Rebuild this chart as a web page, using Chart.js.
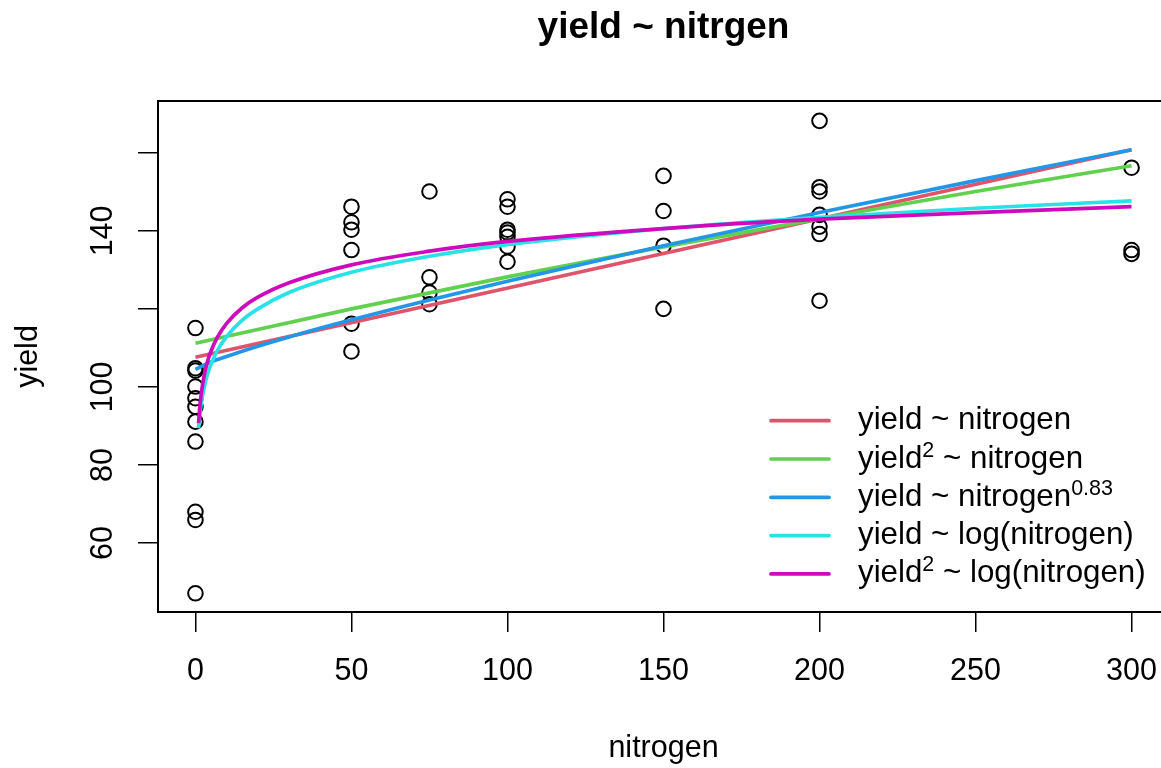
<!DOCTYPE html>
<html><head><meta charset="utf-8">
<script src="https://cdn.jsdelivr.net/npm/chart.js@4/dist/chart.umd.min.js"></script>
<style>html,body{margin:0;padding:0;overflow:hidden;background:#fff;width:1161px;height:768px}canvas{display:block}</style>
</head><body>
<canvas id="c" width="1180" height="768" style="width:1180px;height:768px"></canvas>
<script>
// ---- data ----
const nitrogen = [0,0,0,0,0,0,0,0,0,0,0, 50,50,50,50,50,50, 75,75,75,75, 100,100,100,100,100,100,100, 150,150,150,150, 200,200,200,200,200,200,200, 300,300,300];
const yieldObs = [115.1,104.8,104.2,100.1,97.1,94.9,91.1,86.0,68.0,65.9,47.1,
  146.2,142.2,140.3,135.1,116.2,109.1,
  150.1,128.1,124.2,121.2,
  148.1,146.2,140.3,139.6,138.5,136.0,132.1,
  154.1,145.1,136.2,120.0,
  168.2,151.2,150.1,144.1,141.1,139.2,122.1,
  156.2,135.1,134.1];

const redX = [0, 300];
const redY = [107.6, 160.8];
const greenX = [0, 50, 100, 150, 200, 250, 300];
const greenY = [111.2, 120.0, 128.2, 135.9, 143.1, 150.1, 156.7];
const blueX = [0, 5, 10, 20, 30, 50, 75, 100, 150, 200, 250, 300];
const blueY = [104.5, 106.4, 107.8, 110.4, 112.8, 117.2, 122.3, 127.1, 136.2, 144.7, 152.9, 160.8];
const logX = [1, 1.5, 2, 3, 4, 5, 7, 10, 15, 20, 30, 50, 75, 100, 150, 200, 250, 300];
const cyanY = [89.4, 93.5, 96.5, 100.6, 103.6, 105.8, 109.3, 112.9, 117.1, 120.0, 124.2, 129.4, 133.5, 136.5, 140.6, 143.5, 145.8, 147.7];
const magentaY = [90.7, 95.7, 99.1, 103.7, 106.9, 109.2, 112.7, 116.3, 120.3, 123.0, 126.7, 131.3, 134.8, 137.3, 140.6, 143.0, 144.7, 146.2];

const xTicks = [0, 50, 100, 150, 200, 250, 300];
const yTicks = [60, 80, 100, 120, 140, 160];
const yTickLabels = [60, 80, 100, 140];

const titleText = 'yield ~ nitrgen';
const xTitle = 'nitrogen';
const yTitle = 'yield';
const legendParts = [
  [['yield ~ nitrogen', 0]],
  [['yield', 0], ['2', 1], [' ~ nitrogen', 0]],
  [['yield ~ nitrogen', 0], ['0.83', 1]],
  [['yield ~ log(nitrogen)', 0]],
  [['yield', 0], ['2', 1], [' ~ log(nitrogen)', 0]]
];
const colors = ['#DF536B', '#61D04F', '#2297E6', '#28E2E5', '#CD0BBC'];

// ---- chart ----
const FONT = '"Liberation Sans", Arial, Helvetica, sans-serif';
const pts = (xs, ys) => xs.map((x, i) => ({x: x, y: ys[i]}));
const lineDs = (xs, ys, c, ord) => ({type: 'line', data: pts(xs, ys), borderColor: c, backgroundColor: c,
  borderWidth: 3.7, pointRadius: 0, fill: false, cubicInterpolationMode: 'monotone', order: ord});

const decor = {
  id: 'decor',
  afterDraw(chart) {
    const {ctx, chartArea: a, scales} = chart;
    ctx.save();
    ctx.strokeStyle = '#000'; ctx.lineWidth = 2;
    ctx.strokeRect(a.left, a.top, a.right - a.left, a.bottom - a.top);
    ctx.fillStyle = '#000';
    ctx.textAlign = 'center'; ctx.textBaseline = 'alphabetic';
    ctx.font = 'bold 37px ' + FONT;
    ctx.fillText(titleText, (a.left + a.right) / 2, 38);
    ctx.font = '30.5px ' + FONT;
    ctx.fillText(xTitle, (a.left + a.right) / 2, 757);
    ctx.save(); ctx.translate(37, (a.top + a.bottom) / 2); ctx.rotate(-Math.PI / 2);
    ctx.fillText(yTitle, 0, 0); ctx.restore();
    yTickLabels.forEach(v => {
      const py = scales.y.getPixelForValue(v);
      ctx.save(); ctx.translate(112, py); ctx.rotate(-Math.PI / 2);
      ctx.fillText(String(v), 0, 0); ctx.restore();
    });
    // legend
    const ly0 = 420.7, dy = 38.3;
    legendParts.forEach((parts, i) => {
      const y = ly0 + i * dy;
      ctx.strokeStyle = chart.data.datasets[i + 1].borderColor;
      ctx.lineWidth = 3.7; ctx.lineCap = 'round';
      ctx.beginPath(); ctx.moveTo(771, y); ctx.lineTo(829, y); ctx.stroke();
      ctx.textAlign = 'left';
      let x = 858;
      parts.forEach(([t, sup]) => {
        ctx.font = (sup ? '21.5px ' : '31.3px ') + FONT;
        ctx.fillText(t, x, y + 8.5 - (sup ? 11 : 0));
        x += ctx.measureText(t).width;
      });
    });
    ctx.restore();
  }
};

new Chart(document.getElementById('c'), {
  type: 'scatter',
  data: {
    datasets: [
      {type: 'scatter', data: pts(nitrogen, yieldObs), borderColor: '#000', backgroundColor: 'rgba(0,0,0,0)',
        pointRadius: 7.3, pointBorderWidth: 2, pointHoverRadius: 7.3, order: 10},
      lineDs(redX, redY, colors[0], 5),
      lineDs(greenX, greenY, colors[1], 4),
      lineDs(blueX, blueY, colors[2], 3),
      lineDs(logX, cyanY, colors[3], 2),
      lineDs(logX, magentaY, colors[4], 1)
    ]
  },
  options: {
    responsive: false, animation: false, events: [],
    layout: {padding: {top: 101, right: 11, left: 0, bottom: 0}},
    plugins: {legend: {display: false}, title: {display: false}, tooltip: {enabled: false}},
    scales: {
      x: {type: 'linear', min: -12, max: 312,
        afterBuildTicks: s => { s.ticks = xTicks.map(v => ({value: v})); },
        afterFit: s => { s.height = 156; },
        grid: {display: true, drawOnChartArea: false, drawTicks: true, tickLength: 20, color: '#000', lineWidth: 1.5},
        border: {display: false},
        ticks: {padding: 21, color: '#000', font: {family: FONT, size: 30.5}, maxRotation: 0, autoSkip: false}
      },
      y: {type: 'linear', min: 42.3, max: 173.3,
        afterBuildTicks: s => { s.ticks = yTicks.map(v => ({value: v})); },
        afterFit: s => { s.width = 158; },
        grid: {display: true, drawOnChartArea: false, drawTicks: true, tickLength: 20, color: '#000', lineWidth: 1.5},
        border: {display: false},
        ticks: {display: false}
      }
    }
  },
  plugins: [decor]
});
</script>
</body></html>
